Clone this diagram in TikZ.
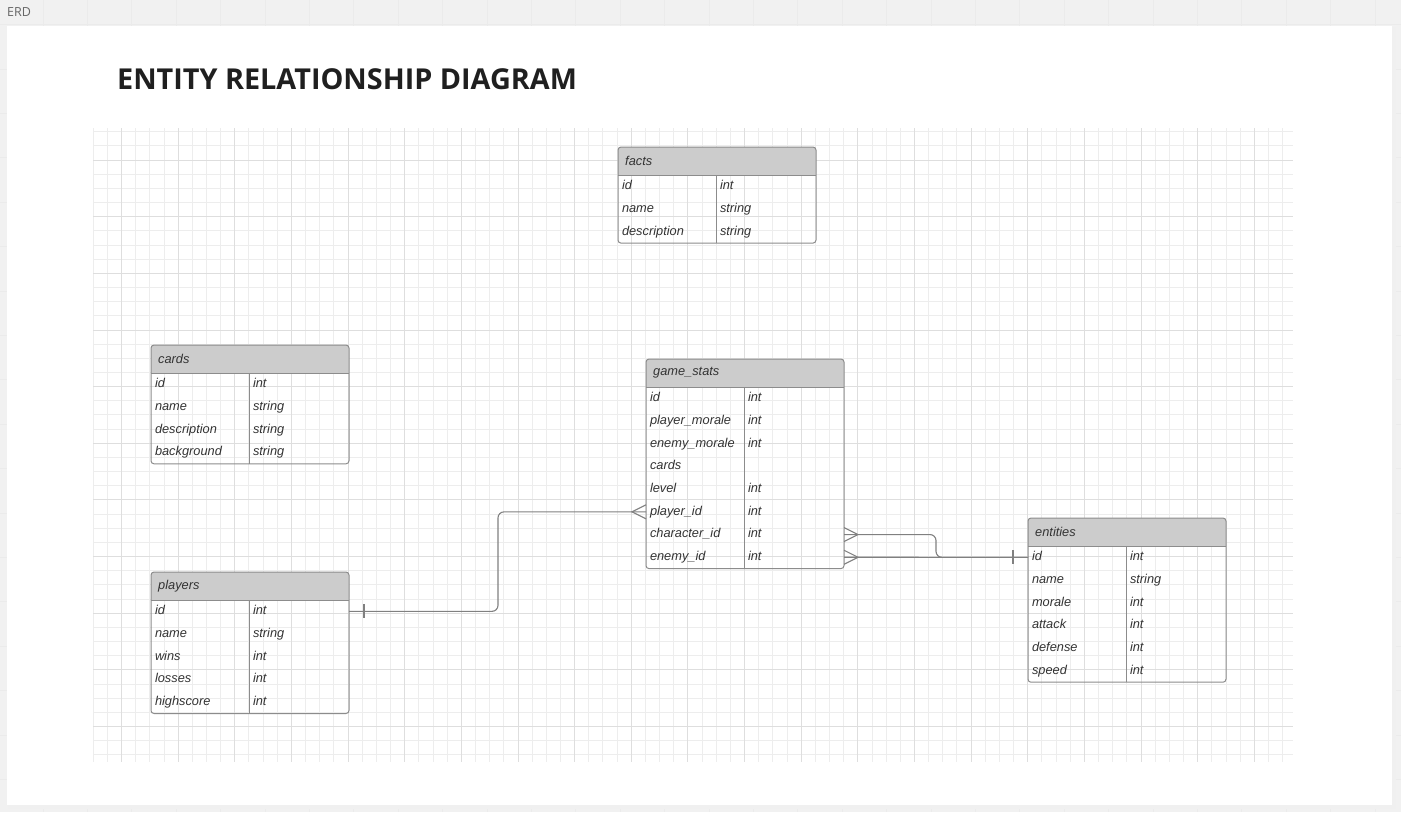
\documentclass[tikz,border=0pt]{standalone}
\usepackage{fontspec}
\setmainfont{Liberation Sans}
\newfontfamily\titlefont{Open Sans}
\usepackage{tikz}
\usetikzlibrary{matrix}

\definecolor{txt}{HTML}{333333}
\definecolor{hdrfill}{HTML}{CCCCCC}
\definecolor{bgcol}{HTML}{F1F1F1}

\tikzset{
	tbl/.style={matrix of nodes, nodes in empty cells, anchor=north west,
		inner sep=0pt, outer sep=0pt, row sep=0pt, column sep=0pt,
		nodes={font=\itshape\fontsize{12.8}{15}\selectfont, text=txt, align=left,
			inner xsep=4pt, inner ysep=0pt, outer sep=0pt,
			minimum height=22.7pt, text height=9pt, text depth=2.5pt},
		column 1/.style={nodes={text width=90pt}},
		column 2/.style={nodes={text width=92pt}}},
	hdr/.style={anchor=south west, minimum height=28pt, text width=184pt,
		inner xsep=7pt, inner ysep=0pt, align=left, text=txt,
		font=\itshape\fontsize{12.8}{15}\selectfont},
	frame/.style={draw=black!45, line width=1pt},
	conn/.style={draw=black!50, line width=1.1pt},
	gridminor/.style={draw=black!7, line width=0.8pt},
	gridmajor/.style={draw=black!13, line width=0.8pt},
}

% header, border and column divider of one table
\newcommand{\erdframe}[2]{%
	\fill[hdrfill, rounded corners=3pt] (#1.north west) rectangle ([yshift=28pt]#1.north east);
	\fill[hdrfill] (#1.north west) rectangle ([yshift=14pt]#1.north east);
	\node[hdr] (#1-h) at (#1.north west) {#2};
	\draw[frame] (#1.north west) -- (#1.north east);
	\draw[frame, rounded corners=3pt] ([yshift=28pt]#1.north west) rectangle (#1.south east);
	\draw[frame] (#1.north west -| #1-1-2.west) -- (#1.south west -| #1-1-2.west);
}

\begin{document}
\begin{tikzpicture}[x=1pt, y=-1pt]
	\useasboundingbox (0,0) rectangle (1401,812);
	\fill[bgcol] (0,0) rectangle (1401,812);
	\foreach \i in {0,...,30}
		\draw[black!8, line width=0.8pt] ({43+44.4*\i},0) -- ++(0,812);
	\foreach \i in {0,...,17}
		\draw[black!8, line width=0.8pt] (0,{24.6+44.4*\i}) -- ++(1401,0);
	\node[anchor=base west, font=\titlefont\fontsize{12.5}{15}\selectfont, text=black!60, inner sep=0pt] (erd) at (7,16) {ERD};

	% page
	\fill[black!12] (8,27.5) rectangle (1394.5,807.5);
	\fill[black!6] (8,27) rectangle (1396,809);
	\fill[white] (7,26) rectangle (1392,805);
	\node[anchor=base west, font=\titlefont\bfseries\fontsize{28.8}{34}\selectfont, text=black!88, inner sep=0pt] (title) at (117,89) {ENTITY RELATIONSHIP DIAGRAM};

	% grid
	\foreach \j in {0,...,84}
		\draw[gridminor] ({93.1+14.16*\j},128) -- ++(0,634);
	\foreach \k in {-2,...,42}
		\draw[gridminor] (93,{160+14.16*\k}) -- ++(1200,0);
	\foreach \j in {2,6,...,82}
		\draw[gridmajor] ({93.1+14.16*\j},128) -- ++(0,634);
	\foreach \k in {0,4,...,40}
		\draw[gridmajor] (93,{160+14.16*\k}) -- ++(1200,0);

	% tables
	\matrix[tbl] (facts) at (618,175) {
		id & int \\
		name & string \\
		description & string \\
	};
	\erdframe{facts}{facts}

	\matrix[tbl] (cards) at (151,373) {
		id & int \\
		name & string \\
		description & string \\
		background & string \\
	};
	\erdframe{cards}{cards}

	\matrix[tbl] (players) at (151,600) {
		id & int \\
		name & string \\
		wins & int \\
		losses & int \\
		highscore & int \\
	};
	\erdframe{players}{players}

	\matrix[tbl] (gamestats) at (646,387) {
		id & int \\
		player\_morale & int \\
		enemy\_morale & int \\
		cards & \\
		level & int \\
		player\_id & int \\
		character\_id & int \\
		enemy\_id & int \\
	};
	\erdframe{gamestats}{game\_stats}

	\matrix[tbl] (entities) at (1028,546) {
		id & int \\
		name & string \\
		morale & int \\
		attack & int \\
		defense & int \\
		speed & int \\
	};
	\erdframe{entities}{entities}

	% relations
	\draw[conn, rounded corners=6pt] (players-1-2.east) -- ++(149,0) |- (gamestats-6-1.west);
	\draw[conn] ([xshift=15pt,yshift=7pt]players-1-2.east) -- ++(0,14);
	\draw[conn] ([yshift=7pt]gamestats-6-1.west) -- ++(-14,7) -- ++(14,7);

	\draw[conn, rounded corners=6pt] (gamestats-7-2.east) -- ++(92,0) |- (entities-1-1.west);
	\draw[conn] ([yshift=7pt]gamestats-7-2.east) -- ++(14,7) -- ++(-14,7);
	\draw[conn] (gamestats-8-2.east) -- (entities-1-1.west);
	\draw[conn] ([yshift=7pt]gamestats-8-2.east) -- ++(14,7) -- ++(-14,7);
	\draw[conn] ([xshift=-15pt,yshift=7pt]entities-1-1.west) -- ++(0,14);
\end{tikzpicture}
\end{document}
